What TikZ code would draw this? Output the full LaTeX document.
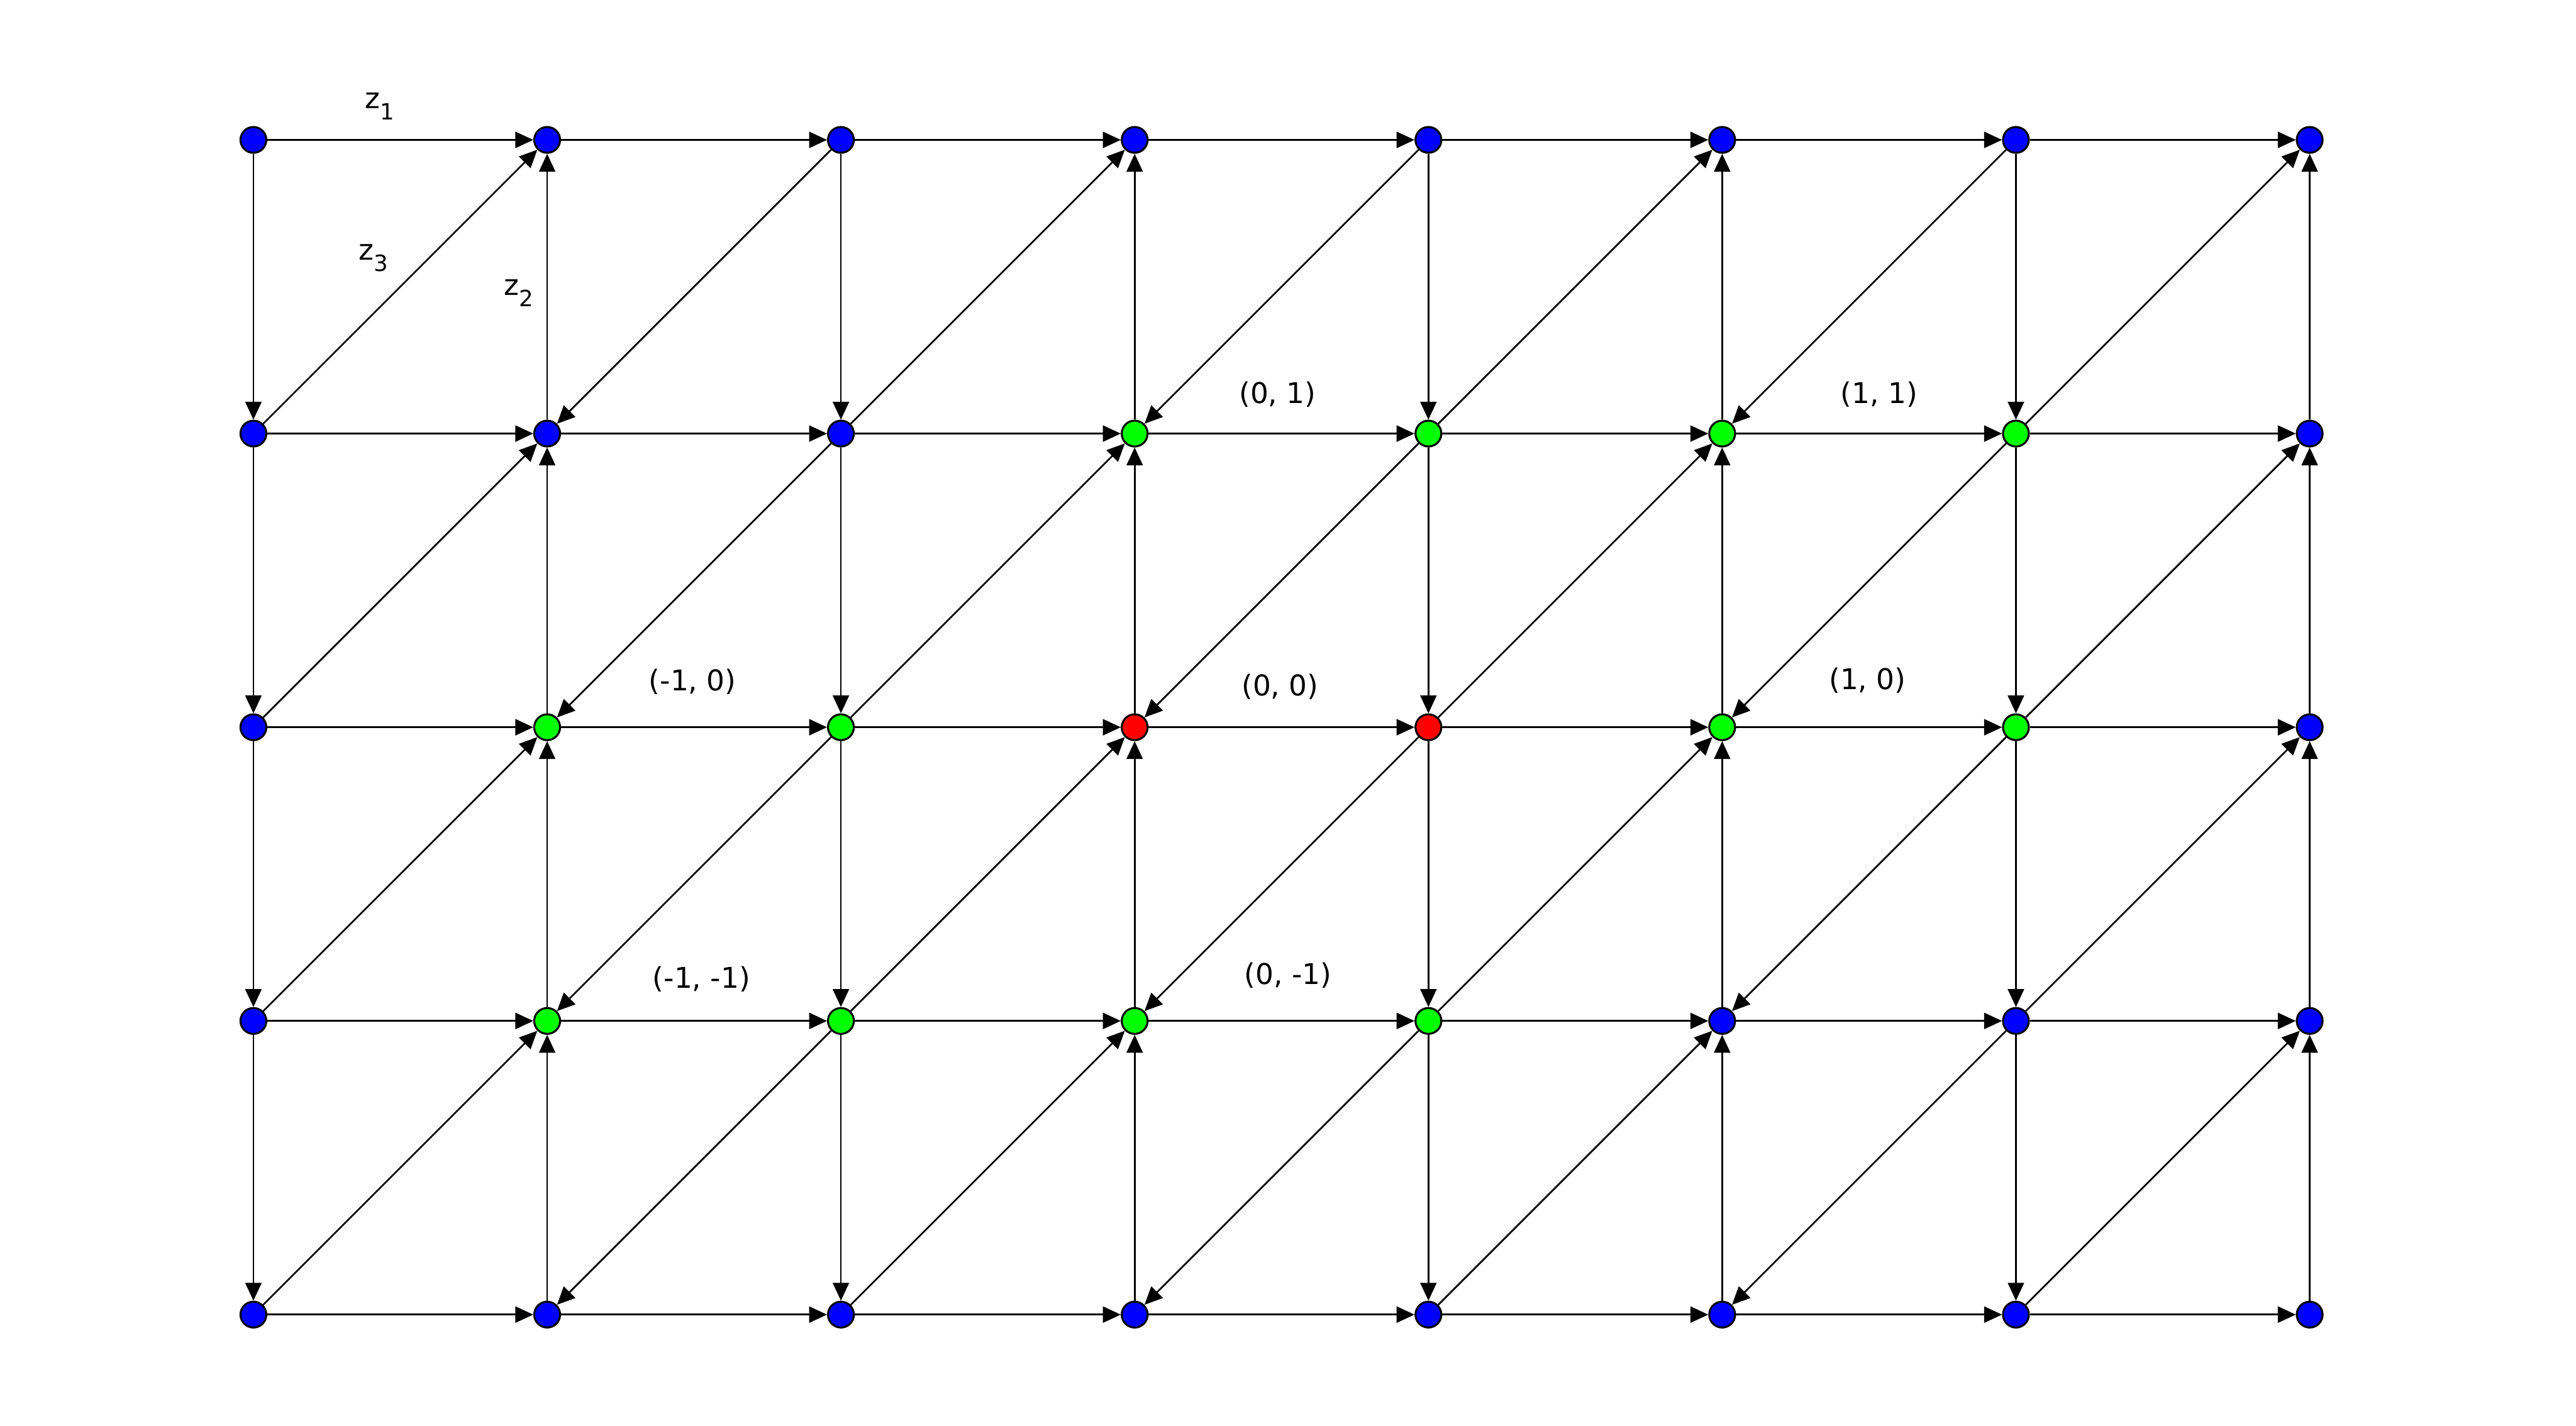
\documentclass[tikz,border=0pt]{standalone}
\usepackage{fontspec}
\setmainfont{DejaVu Sans}
\usetikzlibrary{arrows.meta}
\definecolor{vb}{RGB}{0,0,255}
\definecolor{vg}{RGB}{0,255,0}
\definecolor{vr}{RGB}{255,0,0}
\newcommand\zl[1]{z\raisebox{-3.3pt}{\fontsize{6.5}{7}\selectfont #1}}
\tikzset{>={Triangle[length=5.2pt,width=4.7pt]}}

\begin{document}
\begin{tikzpicture}[
   vtx/.style={circle,draw,line width=0.57pt,minimum size=0.264cm,inner sep=0},
   ar/.style={->,line width=0.5pt},
   lbl/.style={font=\fontsize{8.3}{10}\selectfont,inner sep=0}]
  \useasboundingbox (-2.588,1.429) rectangle (23.720,-13.134);
  \foreach \cols [count=\r from 0] in {{vb,vb,vb,vb,vb,vb,vb,vb},{vb,vb,vb,vg,vg,vg,vg,vb},{vb,vg,vg,vr,vr,vg,vg,vb},{vb,vg,vg,vg,vg,vb,vb,vb},{vb,vb,vb,vb,vb,vb,vb,vb}}
    \foreach \fc [count=\c from 0] in \cols
      \node[vtx,fill=\fc] (v\c\r) at (3*\c,-3*\r) {};
  \foreach \r in {0,...,4}
    \foreach \c/\n in {0/1,1/2,2/3,3/4,4/5,5/6,6/7}
      \draw[ar] (v\c\r) -- (v\n\r);
  \foreach \c in {0,...,7}
    \foreach \r/\s in {0/1,1/2,2/3,3/4}
      {\ifodd\c\relax \draw[ar] (v\c\s) -- (v\c\r); \else \draw[ar] (v\c\r) -- (v\c\s); \fi}
  \foreach \c/\n in {0/1,1/2,2/3,3/4,4/5,5/6,6/7}
    \foreach \r/\s in {0/1,1/2,2/3,3/4}
      {\ifodd\c\relax \draw[ar] (v\n\r) -- (v\c\s); \else \draw[ar] (v\c\s) -- (v\n\r); \fi}
  \node[lbl] (z1) at (1.292,0.341) {\zl{1}};
  \node[lbl] (z3) at (1.225,-1.205) {\zl{3}};
  \node[lbl] (z2) at (2.710,-1.566) {\zl{2}};
  \node[lbl] (p01) at (10.459,-2.598) {(0, 1)};
  \node[lbl] (p11) at (16.602,-2.598) {(1, 1)};
  \node[lbl] (pm10) at (4.485,-5.537) {(-1, 0)};
  \node[lbl] (p00) at (10.485,-5.588) {(0, 0)};
  \node[lbl] (p10) at (16.484,-5.522) {(1, 0)};
  \node[lbl] (pm1m1) at (4.576,-8.573) {(-1, -1)};
  \node[lbl] (p0m1) at (10.566,-8.537) {(0, -1)};
\end{tikzpicture}
\end{document}
